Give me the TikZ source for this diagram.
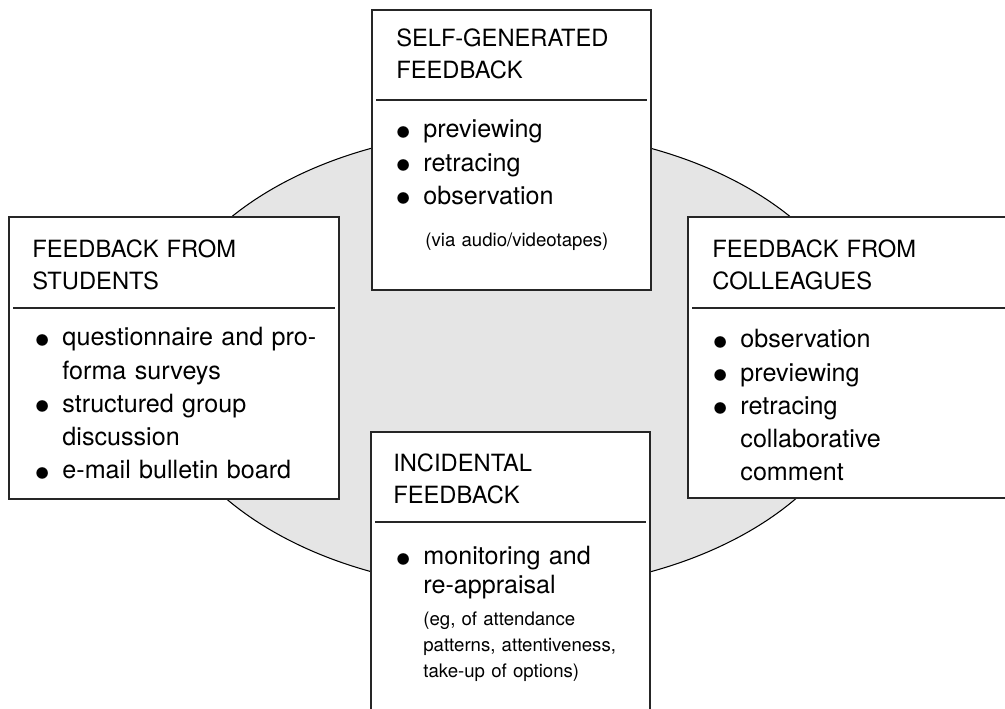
\documentclass[tikz,border=0pt]{standalone}
\usepackage{fontspec}
\setmainfont{TeX Gyre Heros}
\newcommand{\bul}{\noindent\hangindent=16pt\hangafter=1\makebox[16pt][l]{\raisebox{-0.41em}[0pt][0pt]{\scalebox{1.85}{\textbullet}}}}

\begin{document}
\begin{tikzpicture}[x=0.02cm,y=-0.02cm,
		panel/.style={draw=black!85,line width=0.8pt,fill=white},
		rule/.style={draw=black!85,line width=0.7pt},
		head/.style={anchor=base west,inner sep=0pt,text width=6cm,align=left,font=\fontsize{13.5}{18}\selectfont},
		items/.style={anchor=base west,inner sep=0pt,text width=6cm,align=left,font=\fontsize{14.3}{18.9}\selectfont},
		note/.style={anchor=base west,inner sep=0pt,text width=6cm,align=left,font=\fontsize{10.6}{14.8}\selectfont}]
		\clip (0,0) rectangle (1005,709);
		\draw[line width=0.6pt,fill=black!10] (511,360) ellipse [x radius=357, y radius=230];
		
		% top box
		\draw[panel] (372,10) rectangle (651,290);
		\draw[rule] (376,100) -- (647,100);
		\node[head] (selfhd) at (396,47) {SELF-GENERATED\\FEEDBACK};
		\node[items] (selfls) at (395,138) {\bul previewing\par\bul retracing\par\bul observation\par};
		\node[note] (selfnt) at (425,247) {(via audio/videotapes)};
		
		% left box
		\draw[panel] (9,217) rectangle (339,499);
		\draw[rule] (13,308) -- (335,308);
		\node[head] (studhd) at (32,258) {FEEDBACK FROM\\STUDENTS};
		\node[items] (studls) at (34,346) {\bul questionnaire and pro-\newline forma surveys\par\bul structured group\newline discussion\par\bul e-mail bulletin board\par};
		
		% right box
		\draw[panel] (688,217) rectangle (1012,498);
		\draw[rule] (692,308) -- (1012,308);
		\node[head] (collhd) at (712,258) {FEEDBACK FROM\\COLLEAGUES};
		\node[items] (collls) at (712,348) {\bul observation\par\bul previewing\par\bul retracing\newline collaborative\newline comment\par};
		
		% bottom box
		\draw[panel] (371,432) rectangle (650,715);
		\draw[rule] (375,522) -- (646,522);
		\node[head] (incihd) at (393,472) {INCIDENTAL\\FEEDBACK};
		\node[items,font=\fontsize{14.3}{16}\selectfont] (incils) at (395,565) {\bul monitoring and\newline re-appraisal\par};
		\node[note] (incint) at (423,625) {(eg, of attendance\\patterns, attentiveness,\\take-up of options)};
	\end{tikzpicture}
\end{document}
